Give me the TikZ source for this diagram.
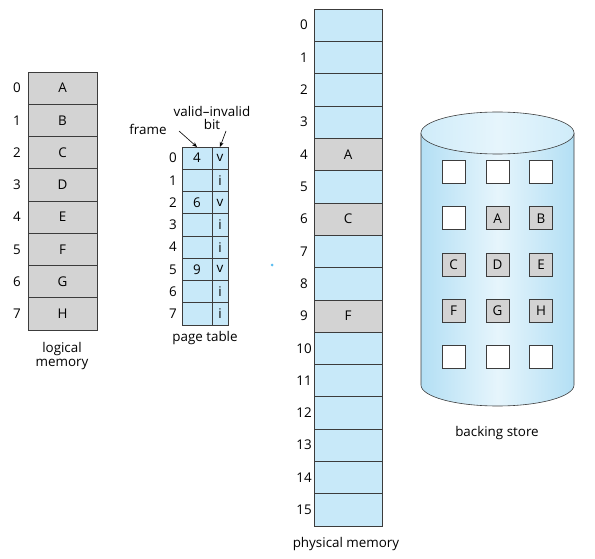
\documentclass[tikz,border=0pt]{standalone}
\usepackage{fontspec}
\setmainfont{Open Sans}
\usetikzlibrary{arrows.meta}
\definecolor{memblue}{HTML}{C8E9F9}
\definecolor{memgray}{HTML}{D3D3D3}
\definecolor{edgec}{HTML}{3C3C3C}
\definecolor{cylside}{HTML}{B3DFF4}
\definecolor{cylmid}{HTML}{E6F5FC}
\definecolor{cyltop}{HTML}{D4EEFA}
\definecolor{dotblue}{HTML}{5CBDF0}
\begin{document}
\begin{tikzpicture}[x=1pt,y=-1pt,font=\fontsize{13.4}{15}\selectfont,
  cellbase/.style={draw=edgec,line width=0.6pt,inner sep=0pt,outer sep=0pt,anchor=north west},
  lcell/.style={cellbase,fill=memgray,minimum width=69pt,minimum height=32.25pt},
  pfcell/.style={cellbase,fill=memblue,minimum width=30pt,minimum height=22.25pt},
  pbcell/.style={cellbase,fill=memblue,minimum width=16pt,minimum height=22.25pt},
  pmcell/.style={cellbase,fill=memblue,minimum width=68pt,minimum height=32.3125pt},
  graycell/.style={fill=memgray},
  sqw/.style={draw=edgec,line width=0.6pt,fill=white,minimum size=23pt,inner sep=0pt},
  sqg/.style={sqw,fill=memgray},
  idx/.style={inner sep=0pt},
  lbl/.style={inner sep=0pt,align=center},
  arr/.style={-{Stealth[length=5pt,width=4pt]},line width=0.6pt,draw=black}]
\useasboundingbox (0,0) rectangle (595,559);

% logical memory
\foreach \t [count=\i from 0] in {A,B,C,D,E,F,G,H} {
  \node[lcell] (lm\i) at (28,72+\i*32.25) {\t};
  \node[idx] (lmn\i) at (17,88.1+\i*32.25) {\i};
}
\node[lbl] (lmlab) at (62,356) {logical\\[-1pt]memory};

% page table
\foreach \f/\b [count=\i from 0] in {4/v,/i,6/v,/i,/i,9/v,/i,/i} {
  \node[pfcell] (ptf\i) at (182,147+\i*22.25) {\f};
  \node[pbcell] (ptb\i) at (212,147+\i*22.25) {\b};
  \node[idx] (ptn\i) at (173,158.1+\i*22.25) {\i};
}
\node[lbl] (ptlab) at (205,338) {page table};
\node[lbl] (frame) at (148,129) {frame};
\node[lbl] (vib) at (212,118) {valid–invalid\\[-2pt]bit};
\draw[arr] (179,131) -- (ptf0.north);
\draw[arr] (226,131) -- (ptb0.north);

% physical memory
\foreach \i in {0,...,15} {
  \node[pmcell] (pm\i) at (314,9+\i*32.3125) {};
  \node[idx] (pmn\i) at (304,25.15+\i*32.3125) {\i};
}
\foreach \i/\t in {4/A,6/C,9/F} {
  \node[pmcell,graycell] (pmg\i) at (314,9+\i*32.3125) {\t};
}
\node[lbl] (pmlab) at (346,544) {physical memory};

% stray dot
\fill[dotblue] (272,265) circle (1.5pt);

% backing store cylinder
\shade[left color=cylside,right color=cylside,middle color=cylmid]
  (421,133) -- (421,385) arc[start angle=180,end angle=0,x radius=76.5,y radius=21] -- (574,133) -- cycle;
\draw[edgec,line width=0.6pt] (421,133) -- (421,385) arc[start angle=180,end angle=0,x radius=76.5,y radius=21] -- (574,133);
\shade[left color=cyltop!85!cylside,right color=cyltop!85!cylside,middle color=cylmid] (497.5,133) ellipse [x radius=76.5,y radius=21];
\draw[edgec,line width=0.6pt] (497.5,133) ellipse [x radius=76.5,y radius=21];

\foreach \r/\a/\sa/\b/\sb/\c/\sc in {0//sqw//sqw//sqw,1//sqw/A/sqg/B/sqg,2/C/sqg/D/sqg/E/sqg,3/F/sqg/G/sqg/H/sqg,4//sqw//sqw//sqw} {
  \node[\sa] (bs\r a) at (453.5,172+\r*46.25) {\a};
  \node[\sb] (bs\r b) at (497.5,172+\r*46.25) {\b};
  \node[\sc] (bs\r c) at (541,172+\r*46.25) {\c};
}
\node[lbl] (bslab) at (497,433) {backing store};
\end{tikzpicture}
\end{document}
